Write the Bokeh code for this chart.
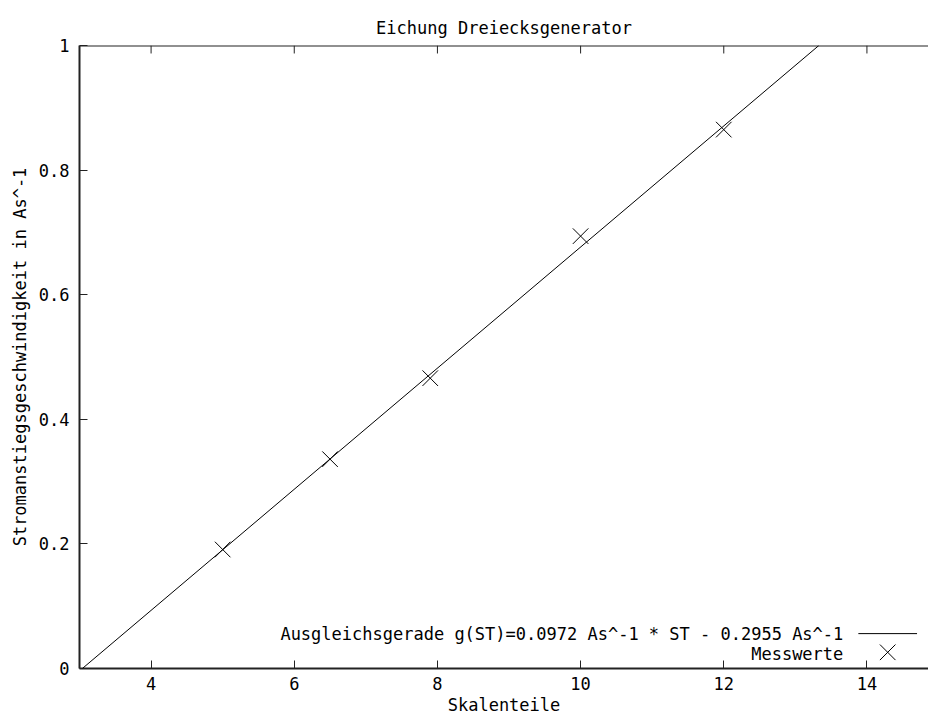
from bokeh.plotting import figure
from bokeh.models import Range1d, FixedTicker, Slope, Label, Span
from bokeh.embed import file_html
from bokeh.resources import INLINE

# ---- data ----
skalenteile = [5.0, 6.5, 7.9, 10.0, 12.0]
stromanstieg = [0.191, 0.336, 0.466, 0.694, 0.865]
fit_slope = 0.0972
fit_intercept = -0.2955
x_ticks = [4, 6, 8, 10, 12, 14]
x_tick_labels = ["4", "6", "8", "10", "12", "14"]
y_ticks = [0, 0.2, 0.4, 0.6, 0.8, 1.0]
y_tick_labels = ["0", "0.2", "0.4", "0.6", "0.8", "1"]
title_text = "Eichung Dreiecksgenerator"
x_label = "Skalenteile"
y_label = "Stromanstiegsgeschwindigkeit in As^-1"
fit_label = "Ausgleichsgerade g(ST)=0.0972 As^-1 * ST - 0.2955 As^-1"
data_label = "Messwerte"

FONT = "DejaVu Sans Mono"
FS = "17px"
AX = "#222222"
X0, X1, Y0, Y1 = 3, 14.86, 0, 1
TICK_LEN = 0.0128  # inward tick length on the top border, in y data units

p = figure(width=928, height=717, output_backend="svg", toolbar_location=None,
           x_range=Range1d(X0, X1), y_range=Range1d(Y0, Y1),
           min_border_left=79, min_border_right=0, min_border_top=45, min_border_bottom=48,
           title=title_text)
p.outline_line_color = None
p.grid.grid_line_color = None
p.background_fill_color = "white"
p.border_fill_color = "white"

p.title.align = "center"
p.title.text_font = FONT
p.title.text_font_size = FS
p.title.text_font_style = "normal"
p.title.text_color = "black"
p.title.standoff = 16

def style_axis(ax, ticks, labels):
    ax.ticker = FixedTicker(ticks=ticks)
    ax.major_label_overrides = {t: l for t, l in zip(ticks, labels)}
    ax.major_tick_in = 8
    ax.major_tick_out = 0
    ax.minor_tick_line_color = None
    ax.axis_line_width = 2
    ax.axis_line_color = AX
    ax.major_tick_line_color = AX
    ax.major_tick_line_width = 1
    ax.major_label_text_font = FONT
    ax.major_label_text_font_size = FS
    ax.major_label_text_color = "black"
    ax.axis_label_text_font = FONT
    ax.axis_label_text_font_size = FS
    ax.axis_label_text_font_style = "normal"
    ax.axis_label_text_color = "black"

style_axis(p.xaxis[0], x_ticks, x_tick_labels)
p.xaxis[0].axis_label = x_label
p.xaxis[0].major_label_standoff = 8
p.xaxis[0].axis_label_standoff = 2

style_axis(p.yaxis[0], y_ticks, y_tick_labels)
p.yaxis[0].axis_label = y_label
p.yaxis[0].major_label_standoff = 10
p.yaxis[0].axis_label_standoff = 6

# top border with inward ticks
p.add_layout(Span(location=Y1, dimension="width", line_color=AX, line_width=2))
p.segment(x0=x_ticks, y0=[Y1] * len(x_ticks), x1=x_ticks,
          y1=[Y1 - TICK_LEN] * len(x_ticks), line_color=AX, line_width=1)

# fit line
p.add_layout(Slope(gradient=fit_slope, y_intercept=fit_intercept,
                   line_color="black", line_width=1))

# measured values
p.scatter(skalenteile, stromanstieg, marker="x", size=22,
          line_color="black", line_width=1)

# legend (gnuplot style, key at bottom right)
p.add_layout(Label(x=13.67, y=0.055, text=fit_label, text_align="right",
                   text_baseline="middle", text_font=FONT, text_font_size=FS,
                   text_color="black"))
p.add_layout(Label(x=13.67, y=0.023, text=data_label, text_align="right",
                   text_baseline="middle", text_font=FONT, text_font_size=FS,
                   text_color="black"))
p.line([13.88, 14.70], [0.056, 0.056], line_color="black", line_width=1)
p.scatter([14.29], [0.026], marker="x", size=22, line_color="black", line_width=1)

open("out.html", "w").write(file_html(p, INLINE))
